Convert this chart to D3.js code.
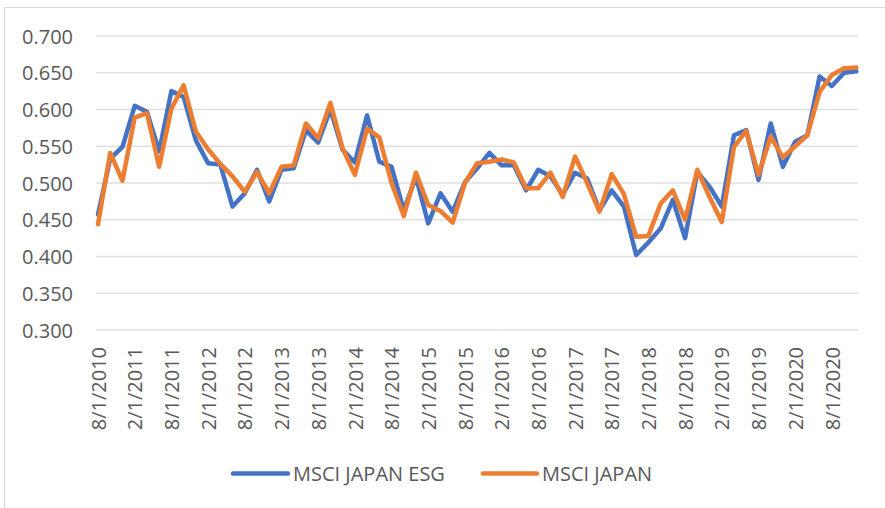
<!DOCTYPE html>
<html>
<head>
<meta charset="utf-8">
<script src="https://cdn.jsdelivr.net/npm/d3@7/dist/d3.min.js"></script>
<style>
  html, body { margin: 0; padding: 0; background: #ffffff; }
  svg { display: block; }
  text { font-family: "Open Sans", "Liberation Sans", sans-serif; fill: #595959; }
</style>
</head>
<body>
<svg id="chart" width="885" height="508"></svg>
<script>
const categories = [
  "8/1/2010","10/1/2010","12/1/2010",
  "2/1/2011","4/1/2011","6/1/2011","8/1/2011","10/1/2011","12/1/2011",
  "2/1/2012","4/1/2012","6/1/2012","8/1/2012","10/1/2012","12/1/2012",
  "2/1/2013","4/1/2013","6/1/2013","8/1/2013","10/1/2013","12/1/2013",
  "2/1/2014","4/1/2014","6/1/2014","8/1/2014","10/1/2014","12/1/2014",
  "2/1/2015","4/1/2015","6/1/2015","8/1/2015","10/1/2015","12/1/2015",
  "2/1/2016","4/1/2016","6/1/2016","8/1/2016","10/1/2016","12/1/2016",
  "2/1/2017","4/1/2017","6/1/2017","8/1/2017","10/1/2017","12/1/2017",
  "2/1/2018","4/1/2018","6/1/2018","8/1/2018","10/1/2018","12/1/2018",
  "2/1/2019","4/1/2019","6/1/2019","8/1/2019","10/1/2019","12/1/2019",
  "2/1/2020","4/1/2020","6/1/2020","8/1/2020","10/1/2020","12/1/2020"
];

const msciJapanEsg = [
  0.457, 0.533, 0.549, 0.605, 0.597, 0.543, 0.625, 0.617, 0.558, 0.527,
  0.525, 0.468, 0.486, 0.518, 0.475, 0.518, 0.520, 0.572, 0.555, 0.600,
  0.545, 0.528, 0.592, 0.529, 0.522, 0.463, 0.508, 0.445, 0.486, 0.461,
  0.501, 0.520, 0.541, 0.524, 0.524, 0.490, 0.518, 0.509, 0.484, 0.514,
  0.506, 0.463, 0.490, 0.468, 0.402, 0.419, 0.438, 0.477, 0.425, 0.515,
  0.495, 0.468, 0.565, 0.572, 0.504, 0.581, 0.522, 0.556, 0.565, 0.645,
  0.632, 0.650, 0.652
];

const msciJapan = [
  0.444, 0.541, 0.503, 0.589, 0.595, 0.522, 0.601, 0.633, 0.570, 0.546,
  0.526, 0.509, 0.488, 0.515, 0.486, 0.522, 0.524, 0.581, 0.561, 0.609,
  0.547, 0.511, 0.574, 0.562, 0.500, 0.455, 0.514, 0.470, 0.462, 0.446,
  0.500, 0.527, 0.529, 0.532, 0.528, 0.493, 0.493, 0.514, 0.481, 0.536,
  0.500, 0.461, 0.512, 0.485, 0.427, 0.428, 0.472, 0.490, 0.450, 0.518,
  0.481, 0.447, 0.549, 0.571, 0.511, 0.563, 0.535, 0.550, 0.565, 0.624,
  0.647, 0.656, 0.657
];

const yTicks = [0.300, 0.350, 0.400, 0.450, 0.500, 0.550, 0.600, 0.650, 0.700];

const xTickLabels = [
  "8/1/2010","2/1/2011","8/1/2011","2/1/2012","8/1/2012","2/1/2013","8/1/2013",
  "2/1/2014","8/1/2014","2/1/2015","8/1/2015","2/1/2016","8/1/2016","2/1/2017",
  "8/1/2017","2/1/2018","8/1/2018","2/1/2019","8/1/2019","2/1/2020","8/1/2020"
];

const seriesNames = ["MSCI JAPAN ESG", "MSCI JAPAN"];
const seriesColors = ["#4472C4", "#ED7D31"];

const svg = d3.select("#chart");

// chart border
svg.append("rect")
  .attr("x", 4.5).attr("y", 7.5)
  .attr("width", 920).attr("height", 540)
  .attr("fill", "none").attr("stroke", "#d9d9d9").attr("stroke-width", 1);

const x = d3.scalePoint().domain(categories).range([98, 856.3]);
const y = d3.scaleLinear().domain([0.3, 0.7]).range([330, 36]);

// gridlines
svg.append("g")
  .selectAll("line")
  .data(yTicks)
  .join("line")
  .attr("x1", 96).attr("x2", 858)
  .attr("y1", d => y(d)).attr("y2", d => y(d))
  .attr("stroke", "#e0e0e0").attr("stroke-width", 1.5);

// y axis
const yAxis = svg.append("g")
  .attr("transform", "translate(73,0)")
  .call(d3.axisLeft(y).tickValues(yTicks).tickFormat(d3.format(".3f")).tickSize(0).tickPadding(0));
yAxis.select(".domain").remove();
yAxis.selectAll("text")
  .attr("font-size", 20)
  .attr("font-family", null)
  .attr("fill", "#595959")
  .attr("dy", "0.35em");

// x axis
const xAxis = svg.append("g")
  .attr("transform", "translate(0,347)")
  .call(d3.axisBottom(x).tickValues(xTickLabels).tickSize(0).tickPadding(0));
xAxis.select(".domain").remove();
xAxis.selectAll("text")
  .attr("font-size", 20)
  .attr("font-family", null)
  .attr("fill", "#595959")
  .attr("text-anchor", "end")
  .attr("transform", "rotate(-90)")
  .attr("x", 0)
  .attr("y", 0)
  .attr("dx", 0)
  .attr("dy", "0.36em");

// lines
const allSeries = [msciJapanEsg, msciJapan];
const line = d3.line()
  .x((d, i) => x(categories[i]))
  .y(d => y(d));

svg.append("g")
  .selectAll("path")
  .data(allSeries)
  .join("path")
  .attr("d", d => line(d))
  .attr("fill", "none")
  .attr("stroke", (d, i) => seriesColors[i])
  .attr("stroke-width", 4.5)
  .attr("stroke-linejoin", "round")
  .attr("stroke-linecap", "round");

// legend
const legendItems = [
  { name: seriesNames[0], color: seriesColors[0], x1: 233, x2: 288, tx: 293 },
  { name: seriesNames[1], color: seriesColors[1], x1: 483, x2: 537, tx: 542 }
];
const lg = svg.append("g");
legendItems.forEach(it => {
  lg.append("line")
    .attr("x1", it.x1).attr("x2", it.x2)
    .attr("y1", 473.5).attr("y2", 473.5)
    .attr("stroke", it.color).attr("stroke-width", 4.5)
    .attr("stroke-linecap", "round");
  lg.append("text")
    .attr("x", it.tx).attr("y", 473.5)
    .attr("dy", "0.35em")
    .attr("font-size", 20)
    .text(it.name);
});
</script>
</body>
</html>
